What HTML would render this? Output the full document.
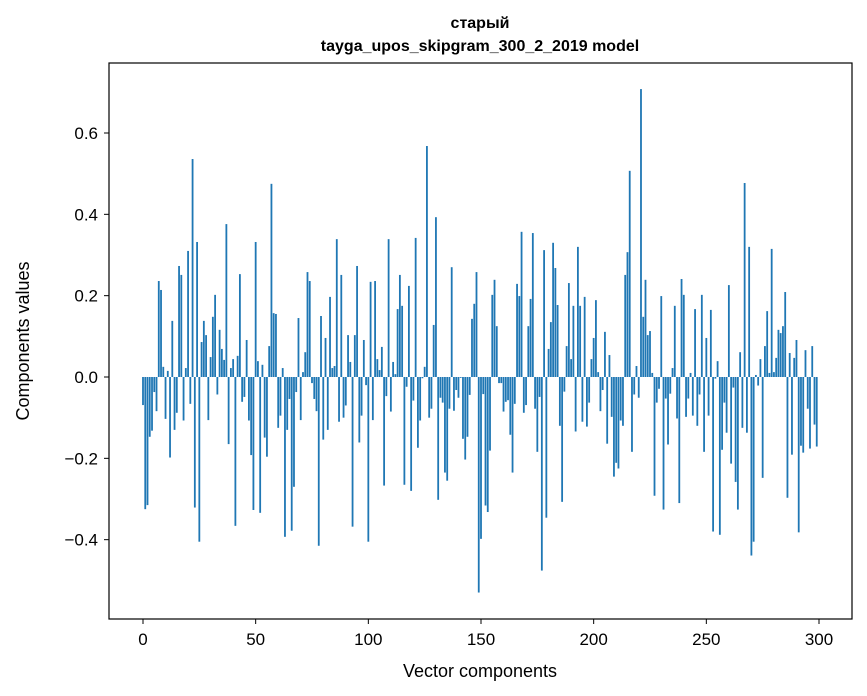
<!DOCTYPE html>
<html><head><meta charset="utf-8"><style>
html,body{margin:0;padding:0;background:#fff;}
svg{display:block;font-family:"Liberation Sans","DejaVu Sans",sans-serif;}
</style></head><body>
<svg id="chart" width="867" height="696" viewBox="0 0 867 696" xmlns="http://www.w3.org/2000/svg">
<rect x="0" y="0" width="867" height="696" fill="#fff"/>
<text x="480" y="28" text-anchor="middle" font-size="16" font-weight="bold">старый</text>
<text x="480" y="51" text-anchor="middle" font-size="16" font-weight="bold">tayga_upos_skipgram_300_2_2019 model</text>
<g id="bars"></g>
<g id="xticks"></g>
<g id="yticks"></g>
<rect x="109" y="63" width="743" height="556" fill="none" stroke="#000" stroke-width="1.2"/>
<text x="480" y="677" text-anchor="middle" font-size="18">Vector components</text>
<text transform="translate(29,341) rotate(-90)" text-anchor="middle" font-size="18">Components values</text>
</svg>
<script>
const values = [
-0.069,-0.325,-0.315,-0.147,-0.132,-0.037,-0.084,0.236,0.214,0.025,
-0.103,0.015,-0.198,0.138,-0.13,-0.088,0.273,0.251,-0.107,0.022,
0.31,-0.066,0.536,-0.321,0.332,-0.405,0.086,0.138,0.103,-0.106,
0.049,0.148,0.202,-0.043,0.116,0.069,0.042,0.376,-0.165,0.022,
0.044,-0.366,0.052,0.253,-0.061,-0.049,0.091,-0.107,-0.192,-0.327,
0.332,0.039,-0.334,0.03,-0.149,-0.196,0.076,0.475,0.157,0.155,
-0.125,-0.095,0.022,-0.393,-0.13,-0.054,-0.378,-0.27,-0.037,0.145,
-0.106,0.012,0.061,0.258,0.236,-0.015,-0.054,-0.084,-0.415,0.15,
-0.154,0.096,-0.13,0.197,0.022,0.027,0.339,-0.11,0.251,-0.1,
-0.07,0.103,0.037,-0.368,0.103,0.273,-0.161,-0.095,0.091,-0.02,
-0.405,0.234,-0.106,0.236,0.044,0.017,0.074,-0.267,-0.047,0.339,
-0.085,0.037,0.007,0.167,0.251,0.175,-0.265,-0.024,0.224,-0.28,
-0.058,0.342,-0.174,-0.107,-0.003,0.025,0.568,-0.1,-0.078,0.128,
0.393,-0.302,-0.051,-0.063,-0.235,-0.255,-0.078,0.27,-0.083,-0.032,
-0.051,-0.002,-0.152,-0.203,-0.147,-0.044,0.143,0.18,0.258,-0.53,
-0.398,-0.042,-0.316,-0.332,-0.181,0.202,0.239,0.125,-0.015,-0.015,
-0.085,-0.061,-0.057,-0.142,-0.235,-0.066,0.229,0.199,0.357,-0.088,
-0.069,0.125,0.192,0.354,-0.078,-0.184,-0.049,-0.476,0.312,-0.346,
0.069,0.135,0.33,0.268,0.177,-0.12,-0.307,-0.036,0.076,0.231,
0.044,0.175,-0.134,0.32,0.175,-0.11,0.197,-0.122,-0.063,0.044,
0.096,0.189,0.012,-0.084,-0.032,0.111,-0.164,0.054,-0.098,-0.245,
-0.211,-0.225,-0.107,-0.12,0.251,0.307,0.507,-0.184,-0.043,0.027,
-0.051,0.708,0.148,0.239,0.103,0.113,0.01,-0.292,-0.063,-0.029,
0.199,-0.326,-0.053,-0.166,-0.041,0.022,0.175,-0.102,-0.31,0.241,
0.202,-0.098,-0.053,0.01,-0.095,0.167,-0.12,-0.043,0.202,-0.184,
0.096,-0.095,0.165,-0.38,-0.004,0.039,-0.388,-0.179,-0.063,-0.137,
0.226,-0.213,-0.026,-0.258,-0.326,0.061,-0.125,0.477,-0.137,0.32,
-0.439,-0.405,0.005,-0.021,0.044,-0.248,0.076,0.162,0.01,0.315,
0.012,0.047,0.116,0.108,0.125,0.209,-0.297,0.059,-0.191,0.047,
0.091,-0.382,-0.169,-0.186,0.066,-0.078,-0.176,0.076,-0.117,-0.171
];
const xTickLabels = [0,50,100,150,200,250,300];
const yTickLabels = [-0.4,-0.2,0.0,0.2,0.4,0.6];

const NS = "http://www.w3.org/2000/svg";
const xScale = v => 143 + v * (676/300);
const yScale = v => 377 - v * (244/0.6);
const barW = 0.8 * (676/300);

const gb = document.getElementById('bars');
values.forEach((v, i) => {
  const r = document.createElementNS(NS, 'rect');
  const y0 = yScale(0), y1 = yScale(v);
  r.setAttribute('x', xScale(i) - barW/2);
  r.setAttribute('y', Math.min(y0, y1));
  r.setAttribute('width', barW);
  r.setAttribute('height', Math.max(Math.abs(y1 - y0), 0.3));
  r.setAttribute('fill', '#1f77b4');
  
  
  gb.appendChild(r);
});

const gx = document.getElementById('xticks');
xTickLabels.forEach(t => {
  const x = xScale(t);
  const l = document.createElementNS(NS, 'line');
  l.setAttribute('x1', x); l.setAttribute('x2', x);
  l.setAttribute('y1', 619); l.setAttribute('y2', 624);
  l.setAttribute('stroke', '#000');
  
  
  gx.appendChild(l);
  const tx = document.createElementNS(NS, 'text');
  tx.setAttribute('x', x); tx.setAttribute('y', 645);
  tx.setAttribute('text-anchor', 'middle');
  tx.setAttribute('font-size', '17');
  tx.textContent = String(t);
  
  
  gx.appendChild(tx);
});

const gy = document.getElementById('yticks');
yTickLabels.forEach(t => {
  const y = yScale(t);
  const l = document.createElementNS(NS, 'line');
  l.setAttribute('x1', 104); l.setAttribute('x2', 109);
  l.setAttribute('y1', y); l.setAttribute('y2', y);
  l.setAttribute('stroke', '#000');
  
  
  gy.appendChild(l);
  const tx = document.createElementNS(NS, 'text');
  tx.setAttribute('x', 98); tx.setAttribute('y', y + 6);
  tx.setAttribute('text-anchor', 'end');
  tx.setAttribute('font-size', '17');
  tx.textContent = (t < 0 ? '\u2212' : '') + Math.abs(t).toFixed(1);
  
  
  gy.appendChild(tx);
});
</script>
</body></html>
